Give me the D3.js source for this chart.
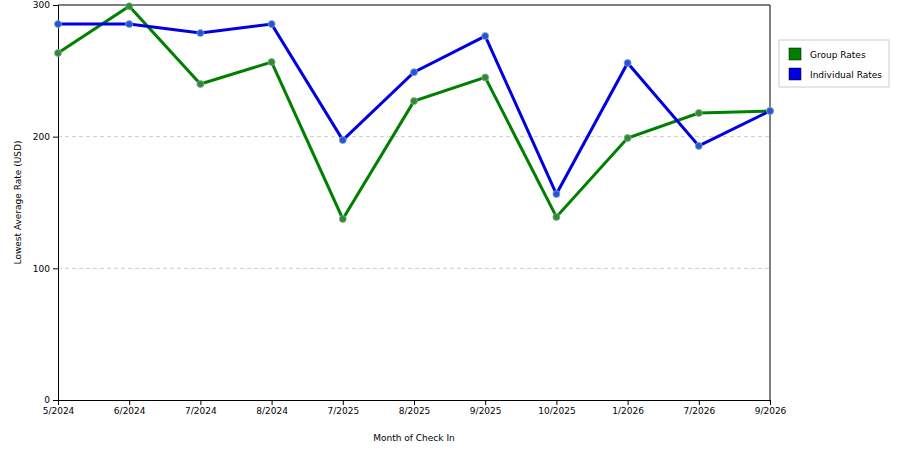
<!DOCTYPE html>
<html><head><meta charset="utf-8">
<script src="https://cdn.jsdelivr.net/npm/d3@7"></script>
<style>body{margin:0;background:#fff}text{font-family:"DejaVu Sans",sans-serif;font-size:9px;fill:#000}</style>
</head><body><svg id="chart" width="900" height="450"></svg>
<script>
var months = ["5/2024","6/2024","7/2024","8/2024","7/2025","8/2025","9/2025","10/2025","1/2026","7/2026","9/2026"];
var groupRates = [263.5,299,240,256.7,137.5,227,245,139,199,218,219.5];
var individualRates = [285.5,285.5,278.7,285.5,197.4,249,276.4,156.4,256,193,219.5];
var yTicks = [0,100,200,300];

var svg = d3.select("#chart");
var m = {l:58, r:770, t:5, b:400};
var x = d3.scalePoint().domain(months).range([m.l, m.r]);
var y = d3.scaleLinear().domain([0,300]).range([m.b, m.t]);

svg.append("g").selectAll("line").data([100,200]).enter().append("line")
	.attr("x1", m.l).attr("x2", m.r).attr("y1", y).attr("y2", y)
	.attr("stroke", "#ccc").attr("stroke-dasharray", "4,3");

svg.append("line").attr("x1", m.l).attr("x2", m.r).attr("y1", m.t).attr("y2", m.t).attr("stroke", "#000");
svg.append("line").attr("x1", m.r).attr("x2", m.r).attr("y1", m.t).attr("y2", m.b).attr("stroke", "#000");

svg.append("g").attr("transform", "translate(0," + m.b + ")")
	.call(d3.axisBottom(x).tickSizeOuter(0).tickSize(5));
svg.append("g").attr("transform", "translate(" + m.l + ",0)")
	.call(d3.axisLeft(y).tickValues(yTicks).tickSizeOuter(0).tickSize(5));
svg.selectAll(".tick text").style("font-size", "9px").style("font-family", "DejaVu Sans");

var series = [
	{name:"Group Rates", values:groupRates, color:"#008000", fill:"#2e8b2e"},
	{name:"Individual Rates", values:individualRates, color:"#0000e0", fill:"#2255dd"}
];
var line = d3.line().x(function(d, i){ return x(months[i]); }).y(function(d){ return y(d); });

series.forEach(function(s) {
	svg.append("path").datum(s.values).attr("d", line)
		.attr("fill", "none").attr("stroke", s.color).attr("stroke-width", 3);
	svg.append("g").selectAll("circle").data(s.values).enter().append("circle")
		.attr("cx", function(d, i){ return x(months[i]); }).attr("cy", y)
		.attr("r", 3.5).attr("fill", s.fill).attr("stroke", "#8aa").attr("stroke-width", 0.8);
});

svg.append("text").attr("x", (m.l + m.r) / 2).attr("y", 441).attr("text-anchor", "middle").text("Month of Check In");
svg.append("text").attr("transform", "translate(21," + ((m.t + m.b) / 2) + ") rotate(-90)")
	.attr("text-anchor", "middle").text("Lowest Average Rate (USD)");

var lg = svg.append("g").attr("transform", "translate(779,40)");
lg.append("rect").attr("width", 110).attr("height", 47).attr("fill", "#fff").attr("stroke", "#ccc");
series.forEach(function(s, i) {
	lg.append("rect").attr("x", 10).attr("y", 8 + i * 20).attr("width", 12).attr("height", 12)
		.attr("fill", s.color).attr("stroke", "#000").attr("stroke-width", 0.5);
	lg.append("text").attr("x", 31).attr("y", 18 + i * 20).text(s.name);
});
</script></body></html>
